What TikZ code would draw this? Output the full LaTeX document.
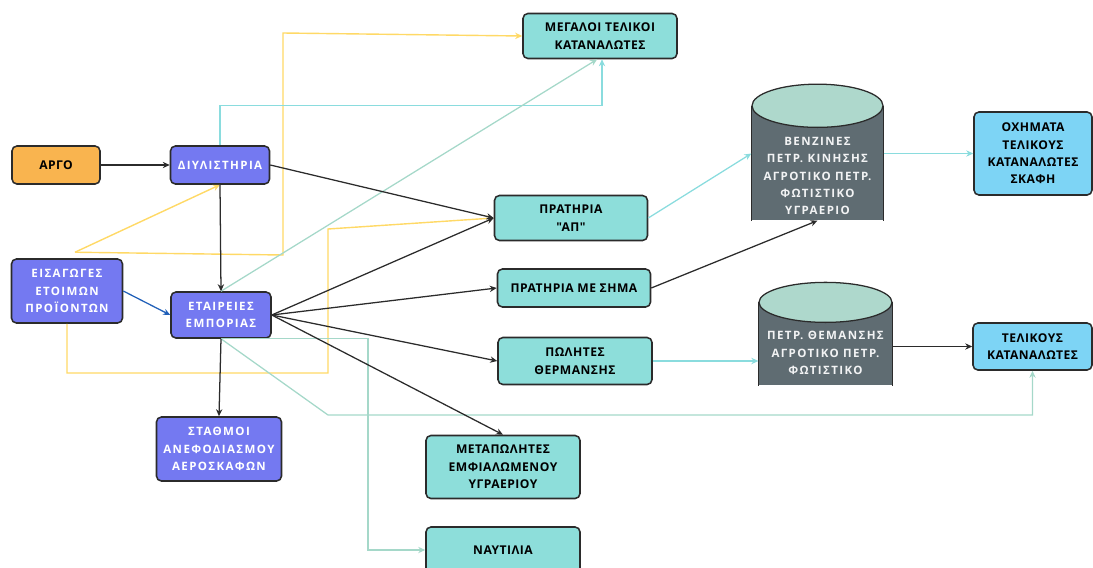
\documentclass[tikz,border=0pt]{standalone}
\usepackage{fontspec}
\setmainfont{Open Sans}[LetterSpace=4,Ligatures=TeXOff]
\newfontfamily\widefont{Open Sans}[LetterSpace=12]
\usetikzlibrary{arrows.meta}
\definecolor{bord}{HTML}{2B2B2B}
\definecolor{orng}{HTML}{F9B44F}
\definecolor{purp}{HTML}{7479F1}
\definecolor{teal}{HTML}{8DDEDA}
\definecolor{skyb}{HTML}{7DD4F5}
\definecolor{cylb}{HTML}{5F6C72}
\definecolor{cylt}{HTML}{AED8CC}
\definecolor{ylw}{HTML}{FFD966}
\definecolor{cyn}{HTML}{8ADCDE}
\definecolor{pgrn}{HTML}{A5D8C9}
\definecolor{blu}{HTML}{2160B8}
\begin{document}
\begin{tikzpicture}[line width=0.9pt,
  font=\bfseries\fontsize{8.6}{12.4}\selectfont,
  >={Stealth[length=5pt,width=4.5pt]},
  box/.style={draw=bord,rounded corners=3.5pt,line width=1.1pt,align=center,inner sep=1pt},
  sz/.style 2 args={minimum width=#1cm,minimum height=#2cm},
  dark/.style={box,fill=purp,text=white,font=\bfseries\widefont\fontsize{8.2}{12.4}\selectfont},
  lite/.style={box,fill=teal,text=black},
  cyl/.style={fill=cylb,text=white!92!cylb,align=center,inner sep=0pt,font=\bfseries\widefont\fontsize{8.2}{12.4}\selectfont},
  blk/.style={->,draw=bord},
  ylwl/.style={->,draw=ylw,line width=1pt},
  cynl/.style={->,draw=cyn,line width=0.9pt},
  grnl/.style={->,draw=pgrn,line width=0.9pt}]
 \useasboundingbox (0,0) rectangle (27.325,-14.2);
 \path (1.4,-4.125)     node[box,fill=orng,sz={2.2}{0.95}] (argo) {ΑΡΓΟ}
  (5.5,-4.125)          node[dark,sz={2.475}{0.95}] (diyl) {ΔΙΥΛΙΣΤΗΡΙΑ}
  (1.675,-7.275)        node[dark,sz={2.775}{1.6}] (eisag) {ΕΙΣΑΓΩΓΕΣ\\ΕΤΟΙΜΩΝ\\ΠΡΟΪΟΝΤΩΝ}
  (5.525,-7.875)        node[dark,sz={2.5}{1.15}] (etair) {ΕΤΑΙΡΕΙΕΣ\\ΕΜΠΟΡΙΑΣ}
  (5.475,-11.225)       node[dark,sz={3.125}{1.6}] (stath) {ΣΤΑΘΜΟΙ\\ΑΝΕΦΟΔΙΑΣΜΟΥ\\ΑΕΡΟΣΚΑΦΩΝ}
  (15,-0.9)             node[lite,sz={3.85}{1.125}] (megal) {ΜΕΓΑΛΟΙ ΤΕΛΙΚΟΙ\\ΚΑΤΑΝΑΛΩΤΕΣ}
  (14.275,-5.45)        node[lite,sz={3.825}{1.125}] (prap) {ΠΡΑΤΗΡΙΑ\\"ΑΠ"}
  (14.35,-7.2)          node[lite,sz={3.825}{0.95}] (prsim) {ΠΡΑΤΗΡΙΑ ΜΕ ΣΗΜΑ}
  (14.375,-9.025)       node[lite,sz={3.85}{1.175}] (polit) {ΠΩΛΗΤΕΣ\\ΘΕΡΜΑΝΣΗΣ}
  (12.575,-11.675)      node[lite,sz={3.85}{1.575}] (metap) {ΜΕΤΑΠΩΛΗΤΕΣ\\ΕΜΦΙΑΛΩΜΕΝΟΥ\\ΥΓΡΑΕΡΙΟΥ}
  (12.575,-13.75)       node[lite,sz={3.85}{1.15}] (nayt) {ΝΑΥΤΙΛΙΑ}
  (25.825,-3.8375)      node[box,fill=skyb,sz={2.95}{2.075}] (oxim) {ΟΧΗΜΑΤΑ\\ΤΕΛΙΚΟΥΣ\\ΚΑΤΑΝΑΛΩΤΕΣ\\ΣΚΑΦΗ}
  (25.8125,-8.6625)     node[box,fill=skyb,sz={2.975}{1.175}] (telik) {ΤΕΛΙΚΟΥΣ\\ΚΑΤΑΝΑΛΩΤΕΣ}
  (20.4375,-4.4)        node[cyl,sz={3.275}{2.2}] (cyl1) {ΒΕΝΖΙΝΕΣ\\ΠΕΤΡ. ΚΙΝΗΣΗΣ\\ΑΓΡΟΤΙΚΟ ΠΕΤΡ.\\ΦΩΤΙΣΤΙΚΟ\\ΥΓΡΑΕΡΙΟ}
  (20.6375,-8.825)      node[cyl,sz={3.325}{1.6}] (cyl2) {ΠΕΤΡ. ΘΕΜΑΝΣΗΣ\\ΑΓΡΟΤΙΚΟ ΠΕΤΡ.\\ΦΩΤΙΣΤΙΚΟ};
 % cylinder tops
 \fill[cylb] ([yshift=-0.05cm]cyl1.north west) rectangle ([yshift=0.64cm]cyl1.north east);
 \draw[bord] ([yshift=0.64cm]cyl1.north west) -- (cyl1.south west)
  ([yshift=0.64cm]cyl1.north east) -- (cyl1.south east);
 \draw[bord,fill=cylt] ([yshift=0.64cm]cyl1.north) ellipse [x radius=1.6375cm,y radius=0.54cm];
 \fill[cylb] ([yshift=-0.05cm]cyl2.north west) rectangle ([yshift=0.45cm]cyl2.north east);
 \draw[bord] ([yshift=0.45cm]cyl2.north west) -- (cyl2.south west)
  ([yshift=0.45cm]cyl2.north east) -- (cyl2.south east);
 \draw[bord,fill=cylt] ([yshift=0.45cm]cyl2.north) ellipse [x radius=1.6625cm,y radius=0.5cm];
 \coordinate (eisT) at ([shift={(0.2,0.15)}]eisag.north);
 % colour lines
 \draw[ylwl] (eisT) -- (diyl.south);
 \draw[ylwl] (eisT) -- (7.075,-6.375) -- (7.075,-0.825) -- (megal.west);
 \draw[ylwl] (eisag.south) |- (8.2,-9.325) -- (8.2,-5.725) -- (prap.west);
 \draw[cynl] (diyl.north) -- ++(0,1) -| ([xshift=0.05cm]megal.south);
 \draw[grnl] (etair.north) -- ([xshift=-0.07cm]megal.south);
 \draw[grnl] (etair.south) -- ++(3.675,0) |- (nayt.west);
 \draw[grnl] (etair.south) -- (8.2,-10.375) -| (telik.south);
 \draw[cynl] (prap.east) -- (cyl1.west |- oxim.west);
 \draw[cynl] (cyl1.east |- oxim.west) -- (oxim.west);
 \draw[cynl] (polit.east) -- (polit.east -| cyl2.west);
 % black lines
 \draw[blk] (argo) -- (diyl);
 \draw[blk] (diyl.south) -- (etair.north);
 \draw[blk] (diyl.east) -- (prap.west);
 \draw[->,draw=blu] (eisag.east) -- (etair.west);
 \draw[blk] (etair.east) -- (prap.west);
 \draw[blk] (etair.east) -- (prsim.west);
 \draw[blk] (etair.east) -- (polit.west);
 \draw[blk] (etair.east) -- (metap.north);
 \draw[blk] (etair.south) -- (stath.north);
 \draw[blk] (prsim.east) -- (cyl1.south);
 \draw[blk] (telik.west -| cyl2.east) -- (telik.west);
\end{tikzpicture}
\end{document}
